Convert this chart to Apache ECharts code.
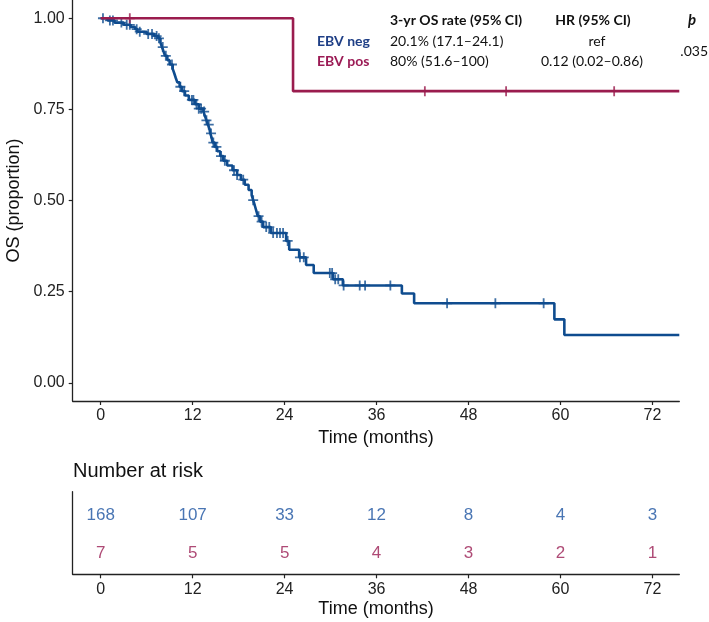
<!DOCTYPE html>
<html>
<head>
<meta charset="utf-8">
<script src="https://cdn.jsdelivr.net/npm/echarts@6/dist/echarts.min.js"></script>
<style>html,body{margin:0;padding:0;background:#fff}#c{width:709px;height:622px}</style>
</head>
<body>
<div id="c"></div>
<script>
// ---- data ----
const timeTicks = [0, 12, 24, 36, 48, 60, 72];
const yTicks = [0, 0.25, 0.5, 0.75, 1];
const groups = ['EBV neg', 'EBV pos'];
const tableHeaders = ['3-yr OS rate (95% CI)', 'HR (95% CI)', 'þ'];
const osRates = ['20.1% (17.1–24.1)', '80% (51.6–100)'];
const hazardRatios = ['ref', '0.12 (0.02–0.86)'];
const pValue = '.035';
const followEnd = 75.5;
// EBV neg KM steps: [time, survival from this time on]
const negSteps = [
  [0, 1.000], [0.9, 0.994], [1.8, 0.988], [3.0, 0.982], [3.9, 0.976], [4.5, 0.970],
  [4.8, 0.963], [6.0, 0.957], [7.0, 0.951], [7.5, 0.945], [7.8, 0.933], [8.0, 0.921],
  [8.2, 0.909], [8.4, 0.897], [8.7, 0.885], [9.0, 0.873], [9.4, 0.861], [9.6, 0.849],
  [9.8, 0.836], [10.0, 0.824], [10.3, 0.812], [10.6, 0.800], [11.0, 0.788], [11.5, 0.776],
  [12.3, 0.764], [12.8, 0.752], [13.4, 0.744], [13.6, 0.732], [13.8, 0.720], [14.0, 0.708],
  [14.2, 0.696], [14.3, 0.684], [14.5, 0.671], [14.6, 0.659], [14.9, 0.647], [15.2, 0.635],
  [15.6, 0.622], [16.0, 0.609], [16.5, 0.596], [17.2, 0.583], [17.8, 0.570], [18.3, 0.557],
  [18.8, 0.543], [19.3, 0.529], [19.7, 0.515], [19.9, 0.501], [20.1, 0.487], [20.3, 0.472],
  [20.5, 0.457], [20.8, 0.442], [21.2, 0.427], [22.2, 0.411], [24.2, 0.389], [24.6, 0.365],
  [25.9, 0.344], [26.8, 0.323], [27.8, 0.301], [30.3, 0.284], [31.6, 0.267], [39.3, 0.245],
  [40.9, 0.218], [59.2, 0.174], [60.5, 0.131]
];
const negCensor = [0.3, 1.2, 1.6, 2.7, 3.4, 3.8, 4.7, 5.1, 6.2, 6.7, 7.3, 7.6, 8.1, 8.5, 9.3,
  10.4, 10.9, 11.9, 12.1, 12.5, 12.8, 13.1, 13.5, 13.8, 14.1, 14.4, 14.7, 15.1, 15.7, 16.2,
  17.4, 17.8, 18.6, 19.9, 20.6, 21.0, 21.6, 22.0, 22.5, 23.0, 23.4, 23.8, 24.4, 26.0, 26.5,
  29.9, 30.2, 30.6, 31.0, 31.7, 33.8, 34.5, 37.8, 45.2, 51.5, 57.8];
// EBV pos KM steps
const posSteps = [[0, 1.0], [25.1, 0.8]];
const posCensor = [3.8, 42.3, 52.9, 67.0];
// number at risk
const riskNeg = [168, 107, 33, 12, 8, 4, 3];
const riskPos = [7, 5, 5, 4, 3, 2, 1];

// ---- styles ----
const BLUE = '#0f4c8f', RED = '#9a1c4e';
const BLUE_TXT = '#1f3f86', RED_TXT = '#9b1b55';
const RISK_BLUE = '#1c52a0', RISK_RED = '#9a1d52';
const AX = '#222';
const FONT = 'Liberation Sans, Arial, sans-serif';
const TFONT = 'Lato, sans-serif';

function stepLine(steps) {
  const d = steps.map(s => [s[0], s[1]]);
  d.push([followEnd, steps[steps.length - 1][1]]);
  return d;
}
function survAt(steps, t) {
  let v = steps[0][1];
  for (const s of steps) { if (s[0] <= t) v = s[1]; }
  return v;
}
const plusPath = 'path://M-1.8,-10 L1.8,-10 L1.8,-1.8 L10,-1.8 L10,1.8 L1.8,1.8 L1.8,10 L-1.8,10 L-1.8,1.8 L-10,1.8 L-10,-1.8 L-1.8,-1.8 Z';

const xMin = -3.65, xMax = 75.5;
const L = 72.7, W = 606.6;

function xAxisCfg(gridIndex) {
  return {
    gridIndex, type: 'value', min: xMin, max: xMax,
    name: 'Time (months)', nameLocation: 'middle', nameGap: 26,
    nameTextStyle: { fontFamily: FONT, fontSize: 18, color: '#111' },
    axisLine: { show: true, onZero: false, lineStyle: { color: AX, width: 1.3 } },
    axisTick: { show: true, length: 4, customValues: timeTicks, lineStyle: { color: AX, width: 1.2 } },
    axisLabel: { customValues: timeTicks, margin: 7, fontFamily: FONT, fontSize: 16, color: '#222' },
    splitLine: { show: false }
  };
}

const graphics = [];
const colX = [390, 593];
const rowY = [41.7, 61.7];
graphics.push({ type: 'text', style: { x: colX[0], y: 20, text: tableHeaders[0], font: 'bold 14px ' + TFONT, fill: '#111', textAlign: 'left', textVerticalAlign: 'middle' } });
graphics.push({ type: 'text', style: { x: colX[1], y: 20, text: tableHeaders[1], font: 'bold 14px ' + TFONT, fill: '#111', textAlign: 'center', textVerticalAlign: 'middle' } });
graphics.push({ type: 'text', style: { x: 692, y: 20, text: tableHeaders[2], font: 'italic bold 15px ' + TFONT, fill: '#111', textAlign: 'center', textVerticalAlign: 'middle' } });
groups.forEach((g, i) => {
  graphics.push({ type: 'text', style: { x: 317, y: rowY[i], text: g, font: 'bold 14px ' + TFONT, fill: i === 0 ? BLUE_TXT : RED_TXT, textAlign: 'left', textVerticalAlign: 'middle' } });
  graphics.push({ type: 'text', style: { x: colX[0], y: rowY[i], text: osRates[i], font: '14px ' + TFONT, fill: '#111', textAlign: 'left', textVerticalAlign: 'middle' } });
  graphics.push({ type: 'text', style: { x: colX[1] + (i === 0 ? 4 : -1), y: rowY[i], text: hazardRatios[i], font: '14px ' + TFONT, fill: '#111', textAlign: 'center', textVerticalAlign: 'middle' } });
});
graphics.push({ type: 'text', style: { x: 708, y: 51.7, text: pValue, font: '14px ' + TFONT, fill: '#111', textAlign: 'right', textVerticalAlign: 'middle' } });

const chart = echarts.init(document.getElementById('c'), null, { renderer: 'canvas' });
chart.setOption({
  animation: false,
  backgroundColor: '#fff',
  title: { text: 'Number at risk', left: 73, top: 461, padding: 0,
    textStyle: { fontFamily: FONT, fontSize: 20, fontWeight: 'normal', color: '#111' } },
  grid: [
    { left: L, top: 0, width: W, height: 401, outerBoundsMode: 'none', containLabel: false },
    { left: L, top: 491.7, width: W, height: 82.6, outerBoundsMode: 'none', containLabel: false }
  ],
  xAxis: [xAxisCfg(0), xAxisCfg(1)],
  yAxis: [
    { gridIndex: 0, type: 'value', min: -0.05, max: 1.05,
      name: 'OS (proportion)', nameLocation: 'middle', nameGap: 50,
      nameTextStyle: { fontFamily: FONT, fontSize: 18, color: '#111' },
      axisLine: { show: true, onZero: false, lineStyle: { color: AX, width: 1.3 } },
      axisTick: { show: true, length: 4, customValues: yTicks, lineStyle: { color: AX, width: 1.2 } },
      axisLabel: { customValues: yTicks, margin: 8, fontFamily: FONT, fontSize: 16, color: '#222',
        formatter: v => v.toFixed(2) },
      splitLine: { show: false } },
    { gridIndex: 1, type: 'category', data: ['EBV pos', 'EBV neg'],
      axisLine: { show: true, onZero: false, lineStyle: { color: AX, width: 1.3 } },
      axisTick: { show: false }, axisLabel: { show: false }, splitLine: { show: false } }
  ],
  graphic: graphics,
  series: [
    { type: 'line', xAxisIndex: 0, yAxisIndex: 0, step: 'end', data: stepLine(negSteps),
      showSymbol: false, lineStyle: { color: BLUE, width: 2.6 }, z: 3 },
    { type: 'scatter', xAxisIndex: 0, yAxisIndex: 0, symbol: plusPath, symbolSize: 10,
      data: negCensor.map(t => [t, survAt(negSteps, t)]), itemStyle: { color: BLUE }, z: 4 },
    { type: 'line', xAxisIndex: 0, yAxisIndex: 0, step: 'end', data: stepLine(posSteps),
      showSymbol: false, lineStyle: { color: RED, width: 2.6 }, z: 5 },
    { type: 'scatter', xAxisIndex: 0, yAxisIndex: 0, symbol: plusPath, symbolSize: 10,
      data: posCensor.map(t => [t, survAt(posSteps, t)]), itemStyle: { color: RED }, z: 6 },
    { type: 'scatter', xAxisIndex: 1, yAxisIndex: 1, symbolSize: 0,
      data: timeTicks.map((t, i) => [t, 'EBV neg', riskNeg[i]]),
      label: { show: true, position: 'inside', offset: [0, 3], formatter: p => String(p.value[2]),
        fontFamily: FONT, fontSize: 17, color: RISK_BLUE } },
    { type: 'scatter', xAxisIndex: 1, yAxisIndex: 1, symbolSize: 0,
      data: timeTicks.map((t, i) => [t, 'EBV pos', riskPos[i]]),
      label: { show: true, position: 'inside', offset: [0, 0], formatter: p => String(p.value[2]),
        fontFamily: FONT, fontSize: 17, color: RISK_RED } }
  ]
});
</script>
</body>
</html>
